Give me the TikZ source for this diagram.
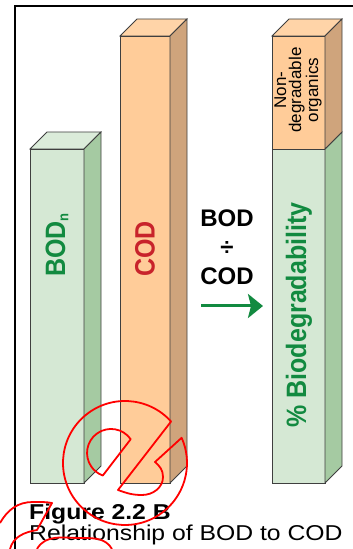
\documentclass[tikz,border=0pt]{standalone}
\usepackage{graphicx}
\usepackage{fontspec}
\setmainfont{Liberation Sans}
\usetikzlibrary{arrows.meta}

\definecolor{greenfront}{HTML}{D5E8D4}
\definecolor{greenside}{HTML}{A5CAA2}
\definecolor{greentop}{HTML}{DBECDA}
\definecolor{orangefront}{HTML}{FFCC99}
\definecolor{orangeside}{HTML}{CFA47C}
\definecolor{orangetop}{HTML}{FFD4A8}
\definecolor{edgegray}{HTML}{3F3F3F}
\definecolor{labelgreen}{HTML}{128A40}
\definecolor{labelred}{HTML}{C8232B}
\definecolor{markred}{HTML}{FF0000}

% bold bar label, slightly stretched across the letters
\newcommand\tallbold[1]{\scalebox{1}[1.12]{\fontsize{25}{25}\selectfont\bfseries #1}}

% cuboid bar: front face as a node, top and side faces drawn behind the edges
\newcommand\prismbar[6]{% name, left x, right x, bottom y, top y, colour prefix
  \node[barface, fill=#6front, minimum width={#3-#2}, minimum height={#5-#4},
        anchor=south west] (#1) at (#2,#4) {};
  \filldraw[barface, fill=#6top] (#1.north west) -- ++(17,17) -- ++({#3-#2},0)
      -- (#1.north east) -- cycle;
  \filldraw[barface, fill=#6side] (#1.south east) -- ++(17,17) -- ++(0,{#5-#4})
      -- (#1.north east) -- cycle;
}

\begin{document}
\begin{tikzpicture}[x=1pt, y=1pt,
  barface/.style={draw=edgegray, line width=0.8pt, inner sep=0pt, outer sep=0pt},
  barlabel/.style={rotate=90, inner sep=0pt},
  ratiotext/.style={anchor=base, inner sep=0pt, font=\fontsize{24}{24}\selectfont\bfseries},
  ratioarrow/.style={draw=labelgreen, line width=3pt,
    -{Stealth[length=15pt, width=24pt, inset=3pt]}},
  redmark/.style={draw=markred, line width=1.8pt, line join=round}]

\useasboundingbox (0,0) rectangle (353,549);

% frame
\draw[line width=2pt, line join=miter] (15,0) -- (15,543) -- (353,543);

% BOD_n and COD bars
\prismbar{bodbar}{30}{84}{66}{400}{green}
\prismbar{codbar}{120}{170}{66}{513}{orange}

% stacked bar: biodegradable part below, non-degradable part above
\node[barface, fill=greenfront, minimum width=53, minimum height=334,
      anchor=south west] (biopart) at (272,66) {};
\node[barface, fill=orangefront, minimum width=53, minimum height=113,
      anchor=south west] (nonpart) at (biopart.north west) {};
\filldraw[barface, fill=orangetop] (nonpart.north west) -- ++(17,17) -- ++(53,0)
    -- (nonpart.north east) -- cycle;
\filldraw[barface, fill=greenside] (biopart.south east) -- ++(17,17) -- ++(0,334)
    -- (biopart.north east) -- cycle;
\filldraw[barface, fill=orangeside] (nonpart.south east) -- ++(17,17) -- ++(0,113)
    -- (nonpart.north east) -- cycle;

% bar labels
\node[barlabel, text=labelgreen] (bodlabel) at (57,304)
  {\tallbold{BOD\raisebox{-3pt}{\fontsize{13}{13}\selectfont n}}};
\node[barlabel, text=labelred] (codlabel) at (145,300) {\tallbold{COD}};
\node[barlabel, text=labelgreen] (biolabel) at (299,234) {\tallbold{\% Biodegradability}};
\node[barlabel, align=center, font=\fontsize{17}{15}\selectfont] (nonlabel) at (298,459)
  {Non-\\degradable\\organics};

% ratio and arrow
\node[ratiotext] (ratiotop) at (227,322) {BOD};
\node[ratiotext] (ratiodiv) at (227,293) {÷};
\node[ratiotext] (ratiobot) at (227,264) {COD};
\coordinate (arrowtail) at (201,243);
\coordinate (arrowtip) at (263,243);
\draw[ratioarrow] (arrowtail) -- (arrowtip);

% caption
\node[anchor=base west, inner sep=0pt] (figtitle) at (29,29.5)
  {\scalebox{1.15}[1]{\fontsize{21.5}{21.5}\selectfont\bfseries Figure 2.2 B}};
\node[anchor=base west, inner sep=0pt] (figcaption) at (29,9)
  {\scalebox{1.15}[1]{\fontsize{21.5}{21.5}\selectfont Relationship of BOD to COD}};

% red stamp marks
\draw[redmark] (171.07,127.49) arc[start angle=42, end angle=384, radius=62]
  -- (155,87) to[out=-40, in=90] (163,72) to[out=-90, in=0] (142,54)
  to[out=180, in=-20] (118,59) -- cycle;
\draw[redmark] (130.7,109.8) arc[start angle=35, end angle=250, radius=24] -- cycle;
\draw[redmark] (0,26) to[out=60, in=180] (33,47) to[out=0, in=170] (52,46)
  -- (37,19) to[out=190, in=75] (10,0);
\draw[redmark] (37,0) to[out=60, in=180] (80,11) to[out=0, in=120] (112,0);

\end{tikzpicture}
\end{document}
